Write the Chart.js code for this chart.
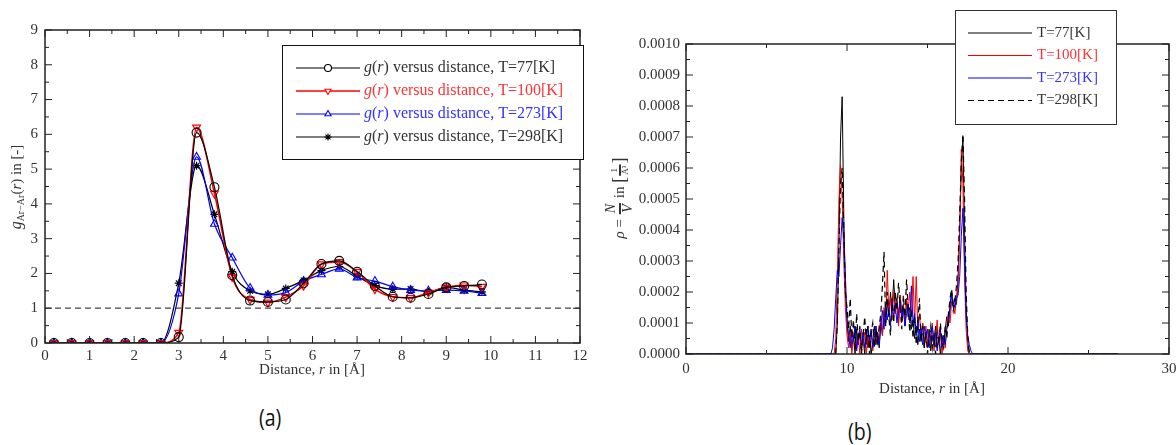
<!DOCTYPE html>
<html>
<head>
<meta charset="utf-8">
<script src="https://cdn.jsdelivr.net/npm/chart.js@4.4.0/dist/chart.umd.min.js"></script>
<style>
  body { margin: 0; background: #fff; width: 1176px; height: 445px; position: relative; overflow: hidden; }
  #left { position: absolute; left: 0; top: 0; }
  #right { position: absolute; left: 600px; top: 0; }
  .cap { position: absolute; font-family: "Open Sans", sans-serif; font-size: 23px; color: #111; transform: scaleX(0.85); }
</style>
</head>
<body>
<canvas id="left" width="600" height="400"></canvas>
<canvas id="right" width="576" height="400"></canvas>
<div class="cap" style="left:257px; top:401px;">(a)</div>
<div class="cap" style="left:846px; top:415px;">(b)</div>
<script>
// ---- panel (a): radial distribution function g(r)
const rPoints = [0.2, 0.6, 1.0, 1.4, 1.8, 2.2, 2.6, 3.0, 3.4, 3.8, 4.2, 4.6, 5.0, 5.4, 5.8, 6.2, 6.6, 7.0, 7.4, 7.8, 8.2, 8.6, 9.0, 9.4, 9.8];
const g77  = [0, 0, 0, 0, 0, 0, 0, 0.17, 6.05, 4.48, 1.95, 1.22, 1.18, 1.25, 1.72, 2.27, 2.36, 2.05, 1.64, 1.33, 1.3, 1.41, 1.6, 1.64, 1.68];
const g100 = [0, 0, 0, 0, 0, 0, 0, 0.3, 6.2, 4.3, 1.9, 1.25, 1.17, 1.32, 1.65, 2.27, 2.33, 2.05, 1.55, 1.33, 1.3, 1.45, 1.6, 1.66, 1.62];
const g273 = [0, 0, 0, 0, 0, 0, 0, 1.42, 5.35, 3.42, 2.45, 1.58, 1.38, 1.45, 1.78, 1.97, 2.13, 1.88, 1.78, 1.62, 1.52, 1.5, 1.52, 1.5, 1.43];
const g298 = [0, 0, 0, 0, 0, 0, 0, 1.72, 5.1, 3.7, 2.05, 1.5, 1.4, 1.57, 1.8, 2.08, 2.2, 1.92, 1.65, 1.55, 1.55, 1.47, 1.6, 1.52, 1.47];
const refX = [0, 12];
const refY = [1, 1];
const gLabels = ["T=77[K]", "T=100[K]", "T=273[K]", "T=298[K]"];

// ---- panel (b): density profile, values in units of 1e-4 1/Å^3
const rhoR = [0,
  9.0, 9.1, 9.2, 9.3, 9.4, 9.5, 9.6, 9.7, 9.8, 9.9,
  10.0, 10.1, 10.2, 10.3, 10.4, 10.5, 10.6, 10.7, 10.8, 10.9,
  11.0, 11.1, 11.2, 11.3, 11.4, 11.5, 11.6, 11.7, 11.8, 11.9,
  12.0, 12.1, 12.2, 12.3, 12.4, 12.5, 12.6, 12.7, 12.8, 12.9,
  13.0, 13.1, 13.2, 13.3, 13.4, 13.5, 13.6, 13.7, 13.8, 13.9,
  14.0, 14.1, 14.2, 14.3, 14.4, 14.5, 14.6, 14.7, 14.8, 14.9,
  15.0, 15.1, 15.2, 15.3, 15.4, 15.5, 15.6, 15.7, 15.8, 15.9,
  16.0, 16.1, 16.2, 16.3, 16.4, 16.5, 16.6, 16.7, 16.8, 16.9,
  17.0, 17.1, 17.2, 17.3, 17.4, 17.5, 17.6, 17.7, 17.8, 17.9,
  18.0, 26.8];
const rho77 = [0,
  0, 0, 0, 0, 1.0, 3.5, 7.0, 8.3, 4.5, 2.0,
  1.0, 0.4, 0.9, 0.2, 0.6, 0, 0.8, 0.3, 0.7, 0.1,
  0.5, 0, 0.8, 0.2, 0.6, 0, 0.4, 0.9, 0.3, 0.7,
  0.2, 1.0, 0.6, 1.4, 0.9, 1.7, 1.2, 2.0, 1.4, 2.4,
  1.5, 1.8, 1.0, 1.9, 1.3, 1.6, 0.9, 1.7, 1.2, 1.5,
  0.8, 1.1, 0.5, 0.9, 0.3, 0.8, 0.4, 1.0, 0.2, 0.7,
  0.3, 0.8, 0.1, 0.6, 0.3, 0.9, 0.2, 0.5, 0, 0.6,
  0.3, 0.8, 1.2, 0.9, 1.6, 2.0, 1.5, 1.8, 1.6, 2.5,
  4.0, 6.0, 7.0, 4.0, 1.5, 0.4, 0, 0, 0, 0,
  0, 0];
const rho100 = [0,
  0, 0, 0, 0.5, 2.5, 5.0, 6.1, 5.0, 3.0, 1.5,
  0.6, 0.2, 0.7, 0, 0.5, 0.9, 0.2, 0.6, 0, 0.8,
  0.3, 0.7, 0, 0.6, 0.2, 0.8, 0.1, 0.5, 0.9, 0.3,
  0.7, 1.2, 0.6, 1.5, 1.0, 2.7, 1.3, 1.8, 1.1, 2.0,
  1.3, 1.7, 0.9, 1.9, 1.2, 1.6, 1.0, 1.8, 1.4, 2.0,
  1.2, 2.5, 1.0, 2.5, 0.8, 1.3, 0.6, 1.0, 0.4, 0.9,
  0.2, 0.7, 0.4, 1.0, 0.1, 0.5, 1.1, 0.3, 0.7, 0,
  0.5, 0.2, 0.9, 1.3, 1.0, 1.7, 1.6, 1.3, 1.8, 2.2,
  3.8, 6.6, 5.5, 2.5, 0.8, 0.1, 0, 0, 0, 0,
  0, 0];
const rho273 = [0,
  0, 0.2, 0.8, 1.8, 2.7, 2.5, 3.5, 4.4, 3.8, 2.5,
  1.2, 0.6, 0.2, 0.8, 0.4, 0.9, 0.1, 0.6, 0.8, 0.3,
  0.7, 0.2, 0.5, 0.9, 0.4, 0.8, 0.2, 0.6, 0.9, 0.5,
  0.3, 0.9, 1.4, 0.8, 1.6, 1.1, 1.5, 0.9, 1.7, 1.2,
  1.6, 1.0, 1.4, 1.7, 1.1, 1.5, 0.9, 1.3, 1.6, 1.0,
  2.2, 1.0, 1.3, 0.6, 1.1, 0.4, 0.8, 0.3, 0.9, 0.5,
  0.8, 0.2, 0.6, 0.9, 0.3, 0.7, 0.1, 0.5, 0.8, 0.2,
  0.6, 0.3, 0.8, 1.1, 1.4, 1.9, 1.7, 1.5, 1.8, 1.9,
  2.5, 3.8, 4.7, 3.0, 1.2, 0.6, 0.3, 0.1, 0, 0,
  0, 0];
const rho298 = [0,
  0, 0, 0, 0, 1.0, 3.5, 5.5, 6.0, 4.0, 2.0,
  1.5, 0.8, 1.8, 0.5, 1.1, 0.2, 1.3, 0.4, 0.9, 0,
  0.6, 1.2, 0.3, 0.9, 0, 0.7, 1.0, 0.2, 0.8, 0.4,
  0.9, 1.3, 2.2, 3.3, 1.0, 2.0, 1.2, 0.6, 1.8, 1.0,
  2.0, 1.4, 2.3, 1.6, 0.8, 1.9, 1.2, 2.4, 1.5, 0.7,
  1.4, 0.5, 1.2, 0.3, 1.0, 1.8, 0.4, 0.9, 0.2, 0.7,
  0, 0.5, 0.9, 0.2, 0.6, 0, 0.7, 0.3, 1.0, 0.4,
  0.2, 0.9, 0.5, 1.3, 1.8, 2.1, 1.4, 1.7, 2.2, 3.0,
  4.5, 6.2, 7.1, 5.0, 2.0, 0.6, 0, 0, 0, 0,
  0, 0];

const SERIF = '"Liberation Serif", "DejaVu Serif", serif';
Chart.defaults.font.family = SERIF;
Chart.defaults.font.size = 15;
Chart.defaults.color = "#333";

const pts = (xs, ys) => xs.map((x, i) => ({ x: x, y: ys[i] }));

// text made of runs: {t, it, s, dy} or fractions {num, den, s}
function runWidth(ctx, p) {
  ctx.font = `${p.it ? "italic " : ""}${p.s}px ${SERIF}`;
  if (p.num !== undefined) {
    return Math.max(ctx.measureText(p.num).width, ctx.measureText(p.den).width) + 4;
  }
  return ctx.measureText(p.t).width;
}
function drawRuns(ctx, parts, cx, cy, angle, color) {
  ctx.save();
  ctx.translate(cx, cy);
  ctx.rotate(angle || 0);
  ctx.fillStyle = color || "#333";
  ctx.strokeStyle = color || "#333";
  ctx.textBaseline = "middle";
  ctx.textAlign = "left";
  let total = 0;
  parts.forEach(p => total += runWidth(ctx, p));
  let x = -total / 2;
  parts.forEach(p => {
    const w = runWidth(ctx, p);
    if (p.num !== undefined) {
      const off = p.s * 0.62;
      ctx.textAlign = "center";
      ctx.fillText(p.num, x + w / 2, -off);
      ctx.fillText(p.den, x + w / 2, off);
      ctx.lineWidth = p.bar || 1.5;
      ctx.beginPath();
      ctx.moveTo(x + 1, 0);
      ctx.lineTo(x + w - 1, 0);
      ctx.stroke();
      ctx.textAlign = "left";
    } else {
      ctx.fillText(p.t, x, p.dy || 0);
    }
    x += w;
  });
  ctx.restore();
}

// frame with inward major/minor ticks on all four sides
function frameTicks(chart, o) {
  const { ctx, chartArea: a } = chart;
  const xs = chart.scales.x, ys = chart.scales.y;
  ctx.save();
  ctx.strokeStyle = "#222";
  ctx.lineWidth = 1;
  const nx = Math.round((xs.max - xs.min) / o.xMinor);
  for (let i = 0; i <= nx; i++) {
    const px = xs.getPixelForValue(xs.min + i * o.xMinor);
    const len = i % o.xEvery === 0 ? 7 : 4;
    ctx.beginPath();
    ctx.moveTo(px, a.bottom); ctx.lineTo(px, a.bottom - len);
    ctx.moveTo(px, a.top); ctx.lineTo(px, a.top + len);
    ctx.stroke();
  }
  const ny = Math.round((ys.max - ys.min) / o.yMinor);
  for (let i = 0; i <= ny; i++) {
    const py = ys.getPixelForValue(ys.min + i * o.yMinor);
    const len = i % o.yEvery === 0 ? 7 : 4;
    ctx.beginPath();
    ctx.moveTo(a.left, py); ctx.lineTo(a.left + len, py);
    ctx.moveTo(a.right, py); ctx.lineTo(a.right - len, py);
    ctx.stroke();
  }
  ctx.lineWidth = 1.5;
  ctx.strokeRect(a.left, a.top, a.right - a.left, a.bottom - a.top);
  ctx.restore();
}

function fixWidth(w) {
  return s => { s.width = w; s.paddingTop = 0; s.paddingBottom = 0; };
}
function fixHeight(h) {
  return s => { s.height = h; s.paddingLeft = 0; s.paddingRight = 0; };
}
const noGrid = { display: false, drawTicks: false };

// ---------------- chart (a)
const leftChart = new Chart(document.getElementById("left"), {
  type: "line",
  data: {
    datasets: [
      { label: gLabels[0], data: pts(rPoints, g77), borderColor: "#000", borderWidth: 1.2,
        pointStyle: "circle", pointRadius: 4.5, pointBorderColor: "#000", pointBackgroundColor: "rgba(0,0,0,0)", pointBorderWidth: 1.1 },
      { label: gLabels[1], data: pts(rPoints, g100), borderColor: "#f00", borderWidth: 1.5,
        pointStyle: "triangle", pointRotation: 180, pointRadius: 4.5, pointBorderColor: "#f00", pointBackgroundColor: "rgba(0,0,0,0)", pointBorderWidth: 1.2 },
      { label: gLabels[2], data: pts(rPoints, g273), borderColor: "#00f", borderWidth: 1.2,
        pointStyle: "triangle", pointRadius: 4.5, pointBorderColor: "#00f", pointBackgroundColor: "rgba(0,0,0,0)", pointBorderWidth: 1.1 },
      { label: gLabels[3], data: pts(rPoints, g298), borderColor: "#000", borderWidth: 1.2,
        pointStyle: "star", pointRadius: 4, pointBorderColor: "#000", pointBackgroundColor: "rgba(0,0,0,0)", pointBorderWidth: 1.2 },
      { label: "ref", data: pts(refX, refY), borderColor: "#444", borderWidth: 1.2, borderDash: [6, 4], pointRadius: 0 }
    ]
  },
  options: {
    responsive: false,
    animation: false,
    layout: { padding: { left: 0, top: 30, right: 20, bottom: 0 } },
    plugins: { legend: { display: false }, tooltip: { enabled: false } },
    elements: { line: { cubicInterpolationMode: "monotone" } },
    scales: {
      x: { type: "linear", min: 0, max: 12, grid: noGrid, border: { display: false },
           ticks: { stepSize: 1, padding: 4, maxRotation: 0 }, afterFit: fixHeight(57) },
      y: { min: 0, max: 9, grid: noGrid, border: { display: false },
           ticks: { stepSize: 1, padding: 7 }, afterFit: fixWidth(45) }
    }
  },
  plugins: [{
    id: "decorA",
    afterDatasetsDraw(chart) {
      frameTicks(chart, { xMinor: 0.5, xEvery: 2, yMinor: 0.5, yEvery: 2 });
    },
    afterDraw(chart) {
      const ctx = chart.ctx;
      drawRuns(ctx, [{ t: "g", it: true, s: 16 }, { t: "Ar\u2212Ar", s: 10, dy: 4 }, { t: "(", s: 15 }, { t: "r", it: true, s: 15 }, { t: ") in [-]", s: 15 }],
        17, 187, -Math.PI / 2);
      drawRuns(ctx, [{ t: "Distance, ", s: 15 }, { t: "r", it: true, s: 15 }, { t: " in [\u00c5]", s: 15 }], 312, 370, 0);
      // legend
      ctx.save();
      ctx.fillStyle = "#fff";
      ctx.fillRect(282, 45, 301, 114);
      ctx.strokeStyle = "#111";
      ctx.lineWidth = 1;
      ctx.strokeRect(282.5, 45.5, 301, 114);
      const textCols = ["#333", "#f33", "#33f", "#333"];
      for (let i = 0; i < 4; i++) {
        const ds = chart.data.datasets[i];
        const y = 68 + i * 23;
        ctx.strokeStyle = ds.borderColor;
        ctx.lineWidth = ds.borderWidth;
        ctx.beginPath(); ctx.moveTo(296, y); ctx.lineTo(360, y); ctx.stroke();
        ctx.fillStyle = "#fff";
        ctx.lineWidth = 1.1;
        Chart.helpers.drawPoint(ctx, { pointStyle: ds.pointStyle, radius: 3.5, rotation: ds.pointRotation || 0, borderWidth: 1 }, 328, y);
        const parts = [{ t: "g", it: true, s: 16 }, { t: "(", s: 16 }, { t: "r", it: true, s: 16 }, { t: ") versus distance, " + ds.label, s: 16 }];
        let w = 0; parts.forEach(p => w += runWidth(ctx, p));
        drawRuns(ctx, parts, 364 + w / 2, y, 0, textCols[i]);
      }
      ctx.restore();
    }
  }]
});

// ---------------- chart (b)
const rightChart = new Chart(document.getElementById("right"), {
  type: "line",
  data: {
    datasets: [
      { label: gLabels[0], data: pts(rhoR, rho77), borderColor: "#000", borderWidth: 1, pointRadius: 0 },
      { label: gLabels[1], data: pts(rhoR, rho100), borderColor: "#f00", borderWidth: 1, pointRadius: 0 },
      { label: gLabels[2], data: pts(rhoR, rho273), borderColor: "#00f", borderWidth: 1, pointRadius: 0 },
      { label: gLabels[3], data: pts(rhoR, rho298), borderColor: "#000", borderWidth: 1.2, borderDash: [6, 4], pointRadius: 0 }
    ].reverse()
  },
  options: {
    responsive: false,
    animation: false,
    layout: { padding: { left: 0, top: 44, right: 7, bottom: 0 } },
    plugins: { legend: { display: false }, tooltip: { enabled: false } },
    scales: {
      x: { type: "linear", min: 0, max: 30, grid: noGrid, border: { display: false },
           ticks: { stepSize: 10, padding: 6, maxRotation: 0 }, afterFit: fixHeight(46) },
      y: { min: 0, max: 10, grid: noGrid, border: { display: false },
           ticks: { stepSize: 1, padding: 6, callback: v => (v / 10000).toFixed(4) }, afterFit: fixWidth(86) }
    }
  },
  plugins: [{
    id: "decorB",
    afterDatasetsDraw(chart) {
      frameTicks(chart, { xMinor: 5, xEvery: 2, yMinor: 0.5, yEvery: 2 });
    },
    afterDraw(chart) {
      const ctx = chart.ctx;
      drawRuns(ctx, [{ t: "\u03c1", it: true, s: 15 }, { t: " = ", s: 15 }, { num: "N", den: "V", it: true, s: 14, bar: 2 },
        { t: " in ", s: 15 }, { t: "[", s: 18 }, { num: "1", den: "\u00c5\u00b3", s: 9, bar: 2 }, { t: "]", s: 18 }],
        20, 198, -Math.PI / 2);
      drawRuns(ctx, [{ t: "Distance, ", s: 15 }, { t: "r", it: true, s: 15 }, { t: " in [\u00c5]", s: 15 }], 332, 389, 0);
      // legend
      ctx.save();
      ctx.fillStyle = "#fff";
      ctx.fillRect(355, 10, 161, 114);
      ctx.strokeStyle = "#333";
      ctx.lineWidth = 1;
      ctx.strokeRect(355.5, 10.5, 161, 114);
      const textCols = ["#333", "#f33", "#33f", "#333"];
      gLabels.forEach((lab, i) => {
        const ds = chart.data.datasets.find(d => d.label === lab);
        const y = 33 + i * 22.5;
        ctx.strokeStyle = ds.borderColor;
        ctx.lineWidth = ds.borderWidth;
        ctx.setLineDash(ds.borderDash || []);
        ctx.beginPath(); ctx.moveTo(368, y); ctx.lineTo(432, y); ctx.stroke();
        ctx.setLineDash([]);
        ctx.font = `15px ${SERIF}`;
        ctx.fillStyle = textCols[i];
        ctx.textBaseline = "middle";
        ctx.fillText(lab, 437, y);
      });
      ctx.restore();
    }
  }]
});
</script>
</body>
</html>
